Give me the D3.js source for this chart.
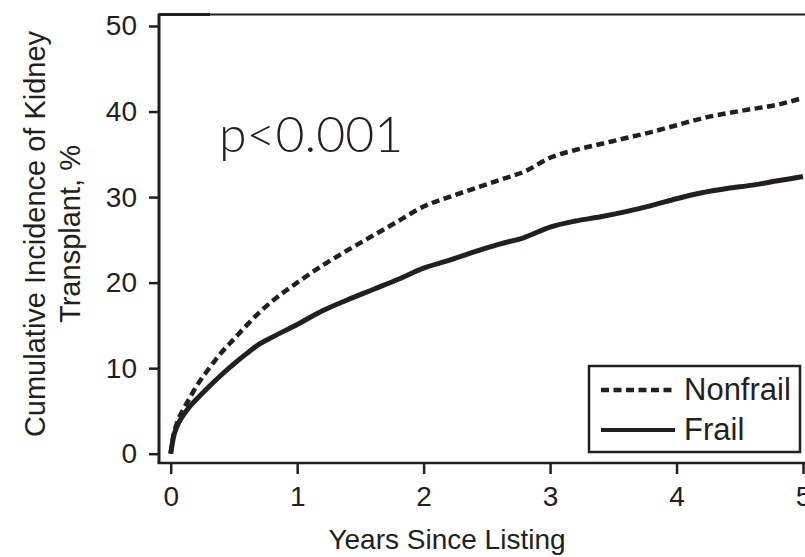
<!DOCTYPE html>
<html>
<head>
<meta charset="utf-8">
<script src="https://cdn.jsdelivr.net/npm/d3@7"></script>
<style>
  body { margin: 0; background: #fff; }
  svg { display: block; }
  text { font-family: "Liberation Sans", Arial, sans-serif; fill: #231f20; }
</style>
</head>
<body>
<script>
// data
var years = [0, 0.02, 0.05, 0.1, 0.15, 0.2, 0.3, 0.4, 0.5, 0.6, 0.7, 0.8, 1.0, 1.2, 1.4, 1.6, 1.8, 2.0,
             2.2, 2.4, 2.6, 2.8, 3.0, 3.2, 3.4, 3.6, 3.8, 4.0, 4.2, 4.4, 4.6, 4.8, 5.0];
var nonfrail = [0, 2.0, 3.6, 5.2, 6.5, 7.8, 9.9, 11.8, 13.4, 15.0, 16.5, 17.8, 20.0, 22.0, 23.8, 25.5, 27.2, 28.9,
                30.0, 31.0, 32.0, 33.0, 34.6, 35.5, 36.2, 36.9, 37.6, 38.4, 39.2, 39.8, 40.3, 40.8, 41.6];
var frail = [0, 1.8, 3.2, 4.5, 5.5, 6.3, 7.8, 9.2, 10.5, 11.7, 12.8, 13.6, 15.1, 16.7, 18.0, 19.2, 20.4, 21.7,
             22.6, 23.6, 24.5, 25.3, 26.5, 27.2, 27.7, 28.3, 29.0, 29.8, 30.5, 31.0, 31.4, 31.9, 32.4];
var xTicks = [0, 1, 2, 3, 4, 5];
var yTicks = [0, 10, 20, 30, 40, 50];
var seriesNames = ["Nonfrail", "Frail"];

var width = 805;
var height = 557;
var ink = "#231f20";

var xScale = d3.scaleLinear().domain([0, 5]).range([170.7, 803]);
var yScale = d3.scaleLinear().domain([0, 50]).range([453.7, 26]);

var svg = d3.select("body")
  .append("svg")
  .attr("width", width)
  .attr("height", height);

// frame: left and bottom, top line thick at the start
var frameLeft = 159, frameTop = 14.5, frameBottom = 463;
svg.append("line")
  .attr("x1", frameLeft).attr("y1", frameTop - 1)
  .attr("x2", frameLeft).attr("y2", frameBottom)
  .attr("stroke", ink).attr("stroke-width", 3);
svg.append("line")
  .attr("x1", frameLeft - 1.5).attr("y1", frameBottom)
  .attr("x2", width).attr("y2", frameBottom)
  .attr("stroke", ink).attr("stroke-width", 2.5);
svg.append("line")
  .attr("x1", frameLeft).attr("y1", frameTop)
  .attr("x2", 210).attr("y2", frameTop)
  .attr("stroke", ink).attr("stroke-width", 3);
svg.append("line")
  .attr("x1", 210).attr("y1", frameTop)
  .attr("x2", width).attr("y2", frameTop)
  .attr("stroke", ink).attr("stroke-width", 1.8);

// y axis
var yAxis = d3.axisLeft(yScale).tickValues(yTicks).tickSize(9).tickPadding(12)
  .tickFormat(d3.format("d"));
var yAxisGroup = svg.append("g")
  .attr("transform", "translate(" + (frameLeft - 1) + ",0)")
  .call(yAxis);
yAxisGroup.select(".domain").remove();
yAxisGroup.selectAll("line").attr("stroke", ink).attr("stroke-width", 2.5);
yAxisGroup.selectAll("text")
  .attr("font-size", 28)
  .attr("fill", ink)
  .style("font-family", "'Liberation Sans', Arial, sans-serif");

// x axis
var xAxis = d3.axisBottom(xScale).tickValues(xTicks).tickSize(10).tickPadding(12)
  .tickFormat(d3.format("d"));
var xAxisGroup = svg.append("g")
  .attr("transform", "translate(0," + (frameBottom + 1) + ")")
  .call(xAxis);
xAxisGroup.select(".domain").remove();
xAxisGroup.selectAll("line").attr("stroke", ink).attr("stroke-width", 2.5);
xAxisGroup.selectAll("text")
  .attr("font-size", 28)
  .attr("fill", ink)
  .style("font-family", "'Liberation Sans', Arial, sans-serif");

// axis titles
svg.append("text")
  .attr("x", 447).attr("y", 549)
  .attr("text-anchor", "middle")
  .attr("font-size", 28)
  .text("Years Since Listing");

var yTitle = svg.append("text")
  .attr("transform", "translate(0,234) rotate(-90)")
  .attr("text-anchor", "middle")
  .attr("font-size", 29);
yTitle.append("tspan").attr("x", 0).attr("y", 45).text("Cumulative Incidence of Kidney");
yTitle.append("tspan").attr("x", 0).attr("y", 80).text("Transplant, %");

// curves
var line = d3.line()
  .x(function(d, i) { return xScale(years[i]); })
  .y(function(d) { return yScale(d); })
  .curve(d3.curveMonotoneX);

svg.append("path")
  .datum(nonfrail)
  .attr("d", line)
  .attr("fill", "none")
  .attr("stroke", ink)
  .attr("stroke-width", 4.5)
  .attr("stroke-dasharray", "8,4.5");

svg.append("path")
  .datum(frail)
  .attr("d", line)
  .attr("fill", "none")
  .attr("stroke", ink)
  .attr("stroke-width", 5);

// p value
svg.append("text")
  .attr("x", 219).attr("y", 152)
  .attr("font-size", 50)
  .style("font-family", "Lato, 'Liberation Sans', sans-serif")
  .style("font-weight", 300)
  .text("p<0.001");

// legend
var legend = svg.append("g");
legend.append("rect")
  .attr("x", 589).attr("y", 366)
  .attr("width", 211).attr("height", 86)
  .attr("fill", "#fff")
  .attr("stroke", ink)
  .attr("stroke-width", 2.5);

var legendRows = legend.selectAll("g.row")
  .data(seriesNames)
  .enter()
  .append("g")
  .attr("class", "row")
  .attr("transform", function(d, i) { return "translate(0," + (390 + i * 40) + ")"; });

legendRows.append("line")
  .attr("x1", 601).attr("x2", 675)
  .attr("y1", 0).attr("y2", 0)
  .attr("stroke", ink)
  .attr("stroke-width", function(d, i) { return i == 0 ? 4.5 : 4; })
  .attr("stroke-dasharray", function(d, i) { return i == 0 ? "8,4.5" : null; });

legendRows.append("text")
  .attr("x", 684).attr("y", 10)
  .attr("font-size", 31)
  .text(function(d) { return d; });
</script>
</body>
</html>
